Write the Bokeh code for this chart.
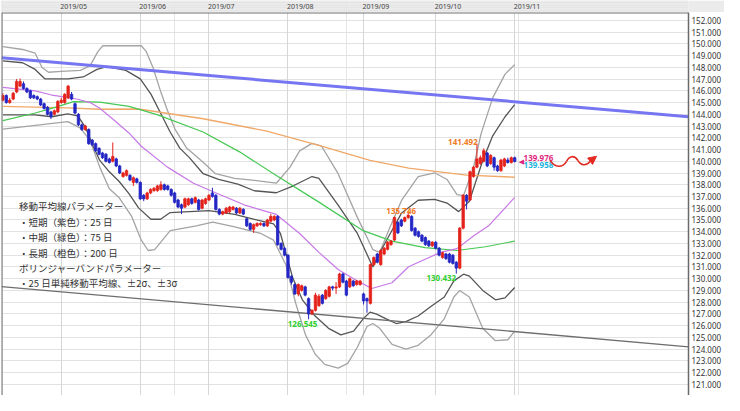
import numpy as np
from bokeh.plotting import figure
from bokeh.layouts import column
from bokeh.models import (Range1d, SingleIntervalTicker, FixedTicker, Grid, NumeralTickFormatter,
                          Span, Arrow, NormalHead, ColumnDataSource)
from bokeh.core.properties import value
from bokeh.embed import file_html
from bokeh.resources import INLINE

# ---------------- data ----------------
month_labels = ["2019/05", "2019/06", "2019/07", "2019/08", "2019/09", "2019/10", "2019/11"]
month_idx = [17, 40, 60, 83, 105, 126, 149]   # index of first trading day of each month

opens = [145.2, 145.6, 145.0, 145.3, 145.9, 146.4, 146.6, 146.2, 146.0, 145.6,
         145.5, 145.3, 144.9, 144.6, 144.2, 144.0, 144.2, 145.0, 145.0, 145.4,
         145.7, 144.9, 144.0, 143.1, 142.7, 142.7, 141.8, 141.5, 141.1, 140.7,
         140.6, 140.2, 140.0, 140.2, 139.6, 138.7, 138.8, 138.8, 138.2, 138.5,
         138.2, 137.1, 136.8, 137.3, 137.5, 137.5, 137.6, 138.0, 137.9, 137.6,
         137.3, 136.7, 136.3, 136.1, 136.3, 136.8, 136.5, 136.7, 136.0, 136.4,
         136.7, 137.3, 137.1, 135.9, 135.5, 135.6, 135.7, 135.9, 136.0, 135.6,
         135.9, 135.1, 134.7, 134.2, 134.5, 134.6, 134.7, 134.5, 134.9, 135.0,
         135.3, 133.0, 132.6, 132.0, 130.2, 129.5, 128.7, 129.0, 129.3, 128.3,
         127.0, 127.3, 127.7, 128.6, 128.3, 128.5, 129.3, 129.2, 129.3, 130.4,
         129.8, 129.3, 129.8, 129.5, 129.5, 128.7, 128.3, 127.9, 131.2, 132.1,
         131.2, 132.1, 132.5, 132.9, 133.3, 134.8, 135.0, 134.9, 135.2, 135.3,
         134.3, 134.0, 133.7, 133.5, 133.2, 132.8, 133.1, 132.6, 131.8, 132.1,
         132.1, 132.0, 131.4, 130.9, 134.3, 137.1, 136.7, 138.7, 139.5, 139.8,
         140.0, 140.7, 139.8, 140.3, 139.6, 139.2, 139.6, 140.1, 139.9, 140.3]
closes = [145.6, 145.0, 145.2, 145.8, 146.8, 146.8, 146.2, 145.9, 145.4, 145.4,
          145.3, 144.8, 144.5, 144.0, 143.8, 144.3, 145.1, 145.2, 145.7, 146.4,
          145.3, 144.1, 143.1, 142.7, 143.0, 141.5, 141.4, 140.9, 140.6, 140.3,
          140.0, 139.9, 140.4, 139.6, 139.0, 139.0, 139.2, 138.4, 138.6, 138.2,
          136.8, 136.8, 137.3, 137.6, 137.7, 137.9, 138.0, 137.6, 137.6, 137.1,
          136.5, 136.1, 136.0, 136.8, 136.8, 136.4, 136.9, 135.9, 136.7, 136.8,
          137.1, 137.0, 135.9, 135.5, 135.7, 136.0, 136.1, 136.1, 135.6, 136.0,
          135.5, 134.5, 134.2, 134.6, 134.7, 134.7, 134.5, 135.0, 135.3, 135.3,
          132.9, 132.5, 132.0, 130.1, 129.7, 128.7, 129.5, 129.4, 128.6, 127.0,
          127.3, 128.6, 128.5, 127.9, 129.0, 129.3, 129.2, 129.3, 130.4, 129.7,
          128.6, 130.0, 129.4, 129.8, 129.8, 128.1, 128.1, 131.2, 131.8, 131.4,
          132.4, 132.6, 133.1, 133.2, 135.2, 133.9, 134.5, 135.2, 135.4, 134.1,
          133.7, 133.6, 133.2, 132.9, 132.8, 133.1, 132.6, 132.0, 132.2, 131.7,
          131.4, 131.3, 130.9, 134.3, 137.1, 136.6, 139.1, 139.5, 140.2, 140.3,
          140.9, 139.6, 140.5, 139.5, 139.2, 140.1, 140.2, 139.9, 140.3, 139.976]
highs = [145.8, 145.7, 145.4, 145.9, 147.0, 147.05, 146.8, 146.3, 146.1, 145.7,
         145.6, 145.4, 145.0, 144.7, 144.3, 144.4, 145.2, 145.4, 145.8, 146.5,
         145.9, 145.0, 144.1, 143.2, 143.1, 142.8, 141.9, 141.6, 141.2, 140.8,
         140.7, 140.3, 141.6, 140.3, 139.7, 139.1, 139.3, 138.9, 138.7, 138.6,
         138.3, 137.2, 137.4, 137.7, 137.8, 138.0, 138.3, 138.1, 138.0, 137.7,
         137.4, 136.8, 136.4, 136.9, 136.9, 136.9, 137.0, 136.8, 136.8, 136.9,
         137.2, 137.75, 137.2, 136.0, 135.8, 136.1, 136.2, 136.2, 136.1, 136.1,
         136.0, 135.2, 134.8, 134.7, 134.8, 134.8, 134.8, 135.1, 135.5, 135.4,
         135.4, 133.1, 132.7, 132.1, 130.3, 129.6, 129.6, 129.5, 129.4, 128.4,
         127.4, 128.8, 128.7, 128.7, 129.1, 129.4, 129.4, 129.7, 130.5, 130.5,
         129.9, 130.1, 129.9, 129.9, 129.9, 128.8, 128.4, 131.3, 131.9, 132.2,
         132.5, 132.7, 133.2, 133.3, 135.3, 134.9, 135.1, 135.3, 135.746, 135.4,
         134.4, 134.1, 133.8, 133.6, 133.3, 133.2, 133.2, 132.7, 132.3, 132.2,
         132.2, 132.1, 131.5, 134.4, 137.2, 137.2, 139.2, 139.6, 141.492, 140.5,
         141.1, 140.8, 140.6, 140.4, 139.7, 140.2, 140.3, 140.3, 140.4, 140.4]
lows = [145.1, 144.9, 144.9, 145.2, 145.8, 146.3, 146.1, 145.8, 145.3, 145.3,
        145.2, 144.7, 144.4, 143.9, 143.6, 143.9, 144.1, 144.9, 144.9, 145.3,
        145.2, 144.0, 143.0, 142.6, 142.6, 141.4, 141.3, 140.8, 140.5, 140.2,
        139.9, 139.8, 139.9, 139.5, 138.9, 138.6, 138.7, 138.3, 137.9, 138.1,
        136.7, 136.6, 136.7, 137.2, 137.4, 137.4, 137.5, 137.5, 137.5, 137.0,
        136.4, 136.0, 135.5, 136.0, 136.2, 136.3, 136.4, 135.8, 135.9, 136.3,
        136.6, 136.9, 135.8, 135.4, 135.4, 135.5, 135.6, 135.8, 135.5, 135.5,
        135.4, 134.4, 134.1, 133.9, 134.4, 134.5, 134.4, 134.4, 134.8, 134.9,
        132.8, 132.4, 131.9, 130.0, 129.5, 128.6, 128.5, 128.9, 128.5, 126.545,
        126.9, 127.2, 127.6, 127.8, 128.2, 128.4, 129.0, 128.7, 129.2, 129.6,
        128.5, 129.2, 129.3, 129.4, 129.4, 127.8, 127.1, 127.8, 131.1, 131.3,
        131.1, 132.0, 132.4, 132.8, 133.2, 133.8, 134.4, 134.8, 135.1, 134.0,
        133.6, 133.5, 133.1, 132.8, 132.7, 132.7, 132.5, 131.9, 131.7, 131.6,
        131.3, 131.2, 130.432, 130.8, 134.2, 135.9, 136.6, 138.6, 139.4, 139.7,
        139.9, 139.5, 139.7, 139.2, 139.1, 139.1, 139.5, 139.8, 139.8, 139.9]

# moving averages and Bollinger bands (index, value)
ma200_k = [0, 18.9, 28.2, 39.5, 58.3, 76.8, 92.0, 106.9, 118.1, 135.0, 149]
ma200_v = [144.67, 144.55, 144.43, 144.45, 143.62, 142.57, 141.36, 140.07, 139.42, 138.82, 138.64]

ma75_k = [0, 9.4, 14.2, 20.6, 28.2, 36.7, 45.1, 58.3, 68.9, 78.8, 92.0, 104.9, 113.3, 122.9, 132.2, 140.5, 149]
ma75_v = [143.46, 144.11, 144.51, 145.08, 145.04, 144.67, 143.95, 142.49, 140.80, 138.94, 136.52,
          134.09, 133.20, 132.64, 132.40, 132.72, 133.20]

ma25_k = [0, 9.4, 14.2, 17.8, 21.8, 25.4, 28.2, 31.9, 36.7, 40.3, 47.9, 55.5, 61.9, 70.4, 79.6,
          86.4, 92.0, 97.6, 103.2, 107.4, 113.3, 118.1, 127.4, 132.2, 136.9, 141.4, 149]
ma25_v = [146.29, 146.00, 145.64, 145.48, 145.28, 145.00, 144.51, 143.62, 142.41, 141.28, 139.50,
          138.13, 137.32, 136.27, 135.47, 133.85, 132.24, 130.78, 129.81, 129.16, 129.65, 131.02,
          132.24, 132.56, 133.61, 134.50, 136.92]

up3_k = [0, 5.75, 9.4, 11.4, 13.3, 17.0, 22.6, 25.4, 27.7, 29.1, 33.8, 40.3, 41.7, 43.7, 45.9,
         47.9, 50.1, 53.5, 58.3, 61.9, 67.5, 73.2, 79.6, 83.6, 86.4, 90.0, 92.8, 97.6, 103.2,
         107.7, 109.7, 112.5, 116.1, 120.9, 125.7, 129.3, 132.2, 134.1, 136.9, 139.2, 142.6, 146.2, 149]
up3_v = [149.76, 149.52, 149.20, 147.99, 147.58, 147.66, 147.74, 148.15, 149.36, 149.84, 149.84,
         149.84, 149.36, 147.99, 145.97, 144.35, 142.74, 141.12, 139.91, 138.94, 138.54, 138.37,
         138.13, 139.50, 140.88, 141.52, 141.28, 138.94, 135.22, 132.48, 132.24, 134.25, 136.68,
         138.70, 139.02, 138.45, 137.16, 137.08, 139.34, 142.33, 145.40, 147.42, 148.23]

up2_k = [0, 5.75, 9.4, 12.2, 18.9, 23.4, 27.4, 30.2, 35.8, 40.0, 43.1, 45.9, 48.7, 51.5, 54.3,
         58.3, 62.8, 68.4, 73.2, 79.6, 84.4, 90.0, 92.0, 97.6, 103.2, 107.7, 110.1, 112.5, 116.1,
         120.9, 125.7, 129.3, 132.7, 135.8, 139.7, 142.6, 146.2, 149]
up2_v = [148.55, 148.39, 147.82, 147.02, 147.02, 147.18, 147.82, 148.07, 147.74, 147.02, 145.72,
         144.11, 142.49, 141.12, 140.31, 138.94, 138.45, 138.05, 137.49, 137.32, 137.89, 138.70,
         138.54, 136.27, 133.85, 131.00, 132.40, 133.70, 135.60, 136.68, 136.76, 136.44, 135.71,
         136.60, 140.07, 142.17, 143.79, 144.83]

lo2_k = [0, 9.4, 14.2, 18.9, 21.8, 24.0, 26.3, 28.2, 31.0, 33.8, 36.7, 39.5, 43.1, 45.9, 48.7,
         60.0, 67.5, 73.2, 78.8, 80.8, 84.4, 87.2, 90.9, 94.8, 98.4, 102.1, 104.9, 106.9, 108.8,
         111.6, 114.5, 117.3, 120.9, 124.6, 128.5, 131.3, 134.1, 135.8, 139.7, 143.4, 146.2, 149]
lo2_v = [143.95, 143.95, 143.79, 144.03, 143.87, 142.90, 141.28, 140.07, 139.10, 138.30, 137.24,
         136.03, 135.06, 135.06, 135.63, 135.79, 135.47, 135.06, 134.66, 133.85, 130.05, 128.20,
         126.82, 125.77, 125.21, 125.53, 126.58, 127.15, 126.98, 126.58, 126.18, 126.34, 126.82,
         127.63, 128.44, 129.81, 130.38, 130.22, 129.00, 128.20, 128.36, 129.25]

lo3_k = [0, 18.9, 22.6, 25.4, 28.2, 31.0, 33.8, 37.5, 40.3, 42.3, 44.2, 48.7, 56.3, 61.1, 67.5,
         75.1, 78.8, 82.4, 85.2, 88.1, 90.9, 93.7, 97.6, 100.4, 103.2, 106.0, 107.7, 109.7, 113.3,
         117.3, 120.9, 124.6, 128.5, 131.3, 133.0, 135.8, 139.7, 143.4, 147.0, 149]
lo3_v = [142.74, 143.38, 142.82, 141.77, 139.50, 137.65, 136.92, 135.30, 133.28, 132.40, 132.48,
         134.09, 134.50, 134.82, 134.41, 133.85, 133.28, 131.19, 127.95, 125.21, 123.59, 122.70,
         122.38, 122.78, 124.16, 125.93, 126.18, 125.77, 124.40, 124.00, 124.32, 125.21, 126.58,
         128.44, 129.00, 128.44, 125.77, 124.72, 124.80, 125.53]

# trend lines (two anchor points each)
trend_hi_k = [-0.4, 199.6]
trend_hi_v = [148.81, 143.80]
trend_lo_k = [-0.4, 199.6]
trend_lo_v = [129.32, 124.20]

# marked extremes
ext_k = [89, 118, 132, 138]
ext_v = [126.545, 135.746, 130.432, 141.492]
ext_kind = ["low", "high", "low", "high"]

last_bid = 139.976
last_ask = 139.958

notes = ["移動平均線パラメーター",
         "・短期（紫色）：25 日",
         "・中期（緑色）：75 日",
         "・長期（橙色）：200 日",
         "ボリンジャーバンドパラメーター",
         "・25 日単純移動平均線、±2σ、±3σ"]

# ---------------- styling / layout ----------------
W = 724
HEAD_H = 12
MAIN_H = 383
BORDER_L = 1
BORDER_R = 36
RED = "#e4221b"
BLUE = "#2326c4"
NUMFONT = "Noto Sans"

XR = Range1d(-0.4, 199.6)
YR = Range1d(120.05, 152.67)

p = figure(width=W, height=MAIN_H, x_range=XR, y_range=YR, output_backend="svg",
           toolbar_location=None, x_axis_location=None, y_axis_location="right",
           min_border_left=BORDER_L, min_border_right=BORDER_R, min_border_top=0, min_border_bottom=0)
p.outline_line_color = None
p.background_fill_color = "white"
p.border_fill_color = "white"

yax = p.yaxis[0]
yax.ticker = SingleIntervalTicker(interval=1, num_minor_ticks=0)
yax.formatter = NumeralTickFormatter(format="0.000")
yax.major_tick_line_color = None
yax.minor_tick_line_color = None
yax.major_tick_in = 0
yax.major_tick_out = 0
yax.minor_tick_in = 0
yax.minor_tick_out = 0
yax.axis_line_color = "#6a6a6a"
yax.axis_line_width = 1.5
yax.major_label_text_font = NUMFONT
yax.major_label_text_font_size = "8px"
yax.major_label_text_color = "#333333"
yax.major_label_standoff = 3
p.ygrid.ticker = SingleIntervalTicker(interval=1, num_minor_ticks=0)
p.ygrid.grid_line_color = "#e2e2e2"
p.add_layout(Grid(dimension=0, ticker=FixedTicker(ticks=month_idx), grid_line_color="#d6d6d6"))

# frame borders (left, top)
p.add_layout(Span(location=XR.start, dimension="height", line_color="#707070", line_width=2))
p.add_layout(Span(location=YR.end, dimension="width", line_color="#707070", line_width=2))

# bands and averages
p.line(up3_k, up3_v, line_color="#a4a4a4", line_width=1.3)
p.line(lo3_k, lo3_v, line_color="#a4a4a4", line_width=1.3)
p.line(up2_k, up2_v, line_color="#555555", line_width=1.3)
p.line(lo2_k, lo2_v, line_color="#555555", line_width=1.3)
p.line(ma200_k, ma200_v, line_color="#f0a868", line_width=1.3)
p.line(ma75_k, ma75_v, line_color="#46c853", line_width=1.2)
p.line(ma25_k, ma25_v, line_color="#c878e6", line_width=1.2)

# trend lines
p.line(trend_hi_k, trend_hi_v, line_color="#7676f2", line_width=3)
p.line(trend_lo_k, trend_lo_v, line_color="#6e6e6e", line_width=1.3)

# candles
o = np.array(opens)
c = np.array(closes)
kk = np.arange(len(opens))
colors = [RED if cc >= oo else BLUE for oo, cc in zip(opens, closes)]
src = ColumnDataSource(dict(k=kk, top=np.maximum(o, c), bottom=np.minimum(o, c),
                            high=highs, low=lows, color=colors))
p.segment(x0="k", y0="low", x1="k", y1="high", line_color="color", line_width=1, source=src)
p.vbar(x="k", width=0.7, top="top", bottom="bottom", fill_color="color", line_color="color",
       line_width=0.8, source=src)

# extreme labels
ext_src = ColumnDataSource(dict(
    x=ext_k, y=ext_v,
    text=[f"{v:.3f}" for v in ext_v],
    color=["#2fcf2f" if t == "low" else "#f07a22" for t in ext_kind],
    xo=[-6, -7, -15, -14],
    yo=[5, 0, 4, -2],
))
p.text(x="x", y="y", text="text", text_color="color", x_offset="xo", y_offset="yo",
       text_align="center", text_baseline="middle", text_font=value(NUMFONT),
       text_font_size="8px", text_font_style="bold", source=ext_src)

# last price marker and labels
last_k = len(closes) - 1
p.text(x=[last_k + 1.2], y=[last_bid], text=["◀"], text_color="#e0287e",
       text_align="left", text_baseline="middle", text_font=value("DejaVu Sans"),
       text_font_size="7px")
p.text(x=[last_k + 2.6], y=[last_bid], text=[f"{last_bid:.3f}"], text_color="#e0287e",
       y_offset=-4, text_align="left", text_baseline="middle", text_font=value(NUMFONT),
       text_font_size="8px", text_font_style="bold")
p.text(x=[last_k + 2.6], y=[last_ask], text=[f"{last_ask:.3f}"], text_color="#22b4dc",
       y_offset=3, text_align="left", text_baseline="middle", text_font=value(NUMFONT),
       text_font_size="8px", text_font_style="bold")

# red wavy arrow (hand-drawn style annotation)
p.bezier(x0=[159.3, 164.1, 167.4], y0=[140.07, 139.99, 140.07],
         x1=[164.1, 167.4, 170.9], y1=[139.99, 140.07, 139.99],
         cx0=[160.7, 164.9, 168.3], cy0=[139.42, 140.47, 139.59],
         cx1=[162.9, 166.3, 170.0], cy1=[139.42, 140.55, 139.59],
         line_color="#e32a22", line_width=1.6)
p.add_layout(Arrow(end=NormalHead(size=8, fill_color="#e32a22", line_color="#e32a22"),
                   x_start=170.9, y_start=139.99, x_end=172.8, y_end=140.42,
                   line_color="#e32a22", line_width=1.6))

# parameter notes
note_x = 4.7
note_top = 136.15
note_step = 1.31
p.text(x=[note_x] * len(notes), y=[note_top - i * note_step for i in range(len(notes))],
       text=notes, text_color="#333333", text_align="left", text_baseline="middle",
       text_font=value("Noto Sans CJK JP"), text_font_size="9.5px")

# header bar with month labels
h = figure(width=W, height=HEAD_H, x_range=XR, y_range=Range1d(0, 1), output_backend="svg",
           toolbar_location=None, x_axis_location=None, y_axis_location=None,
           min_border_left=BORDER_L, min_border_right=BORDER_R, min_border_top=0, min_border_bottom=0)
h.background_fill_color = "#ebebeb"
h.border_fill_color = "#ebebeb"
h.outline_line_color = None
h.text(x=month_idx, y=[0.5] * len(month_idx), text=month_labels, text_color="#444444",
       x_offset=-1, text_align="left", text_baseline="middle", text_font=value(NUMFONT),
       text_font_size="7px")

layout = column(h, p, spacing=0)
open("out.html", "w").write(file_html(layout, INLINE))
